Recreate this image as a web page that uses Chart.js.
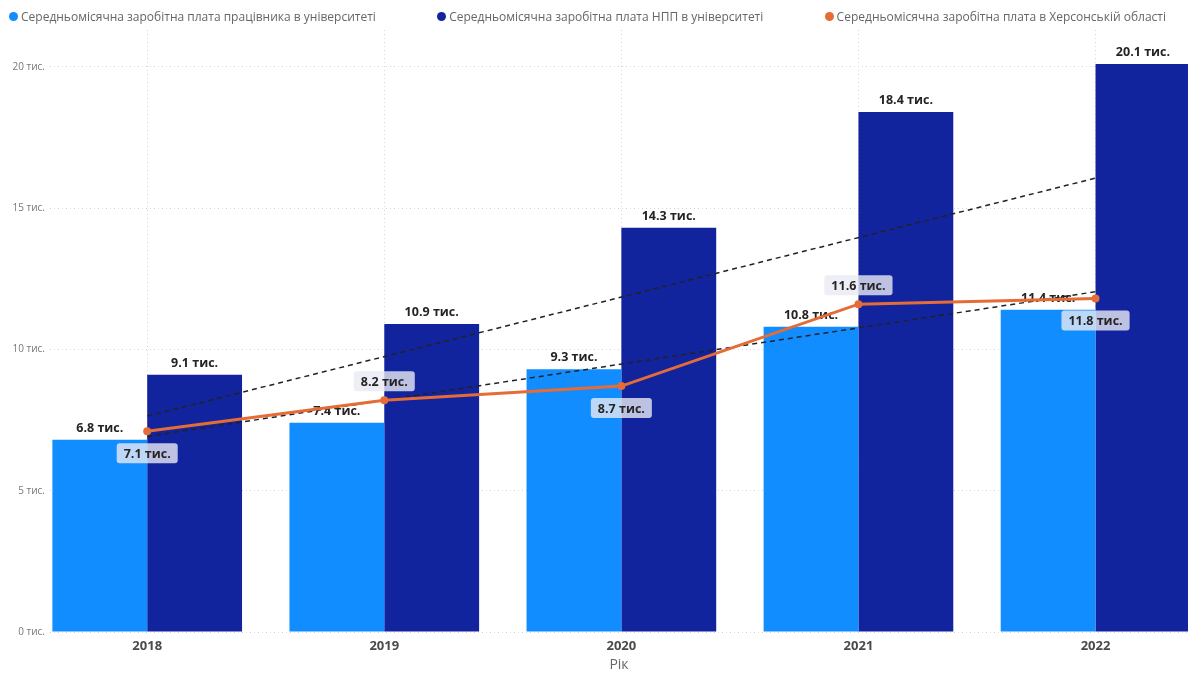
<!DOCTYPE html>
<html lang="uk">
<head>
<meta charset="utf-8">
<title>Середньомісячна заробітна плата</title>
<script src="https://cdn.jsdelivr.net/npm/chart.js@4.4.1/dist/chart.umd.min.js"></script>
<style>
  body { margin: 0; background: #fff; font-family: "Open Sans", sans-serif; }
  .wrap { position: relative; width: 1188px; height: 673px; overflow: hidden; }
  .legend { position: absolute; top: 8px; left: 9px; right: 22px; display: flex; justify-content: space-between; font-size: 12px; color: #666; }
  .legend-item { display: flex; align-items: center; gap: 3px; white-space: nowrap; }
  .legend-item .dot { width: 9px; height: 9px; border-radius: 50%; }
  canvas { display: block; }
</style>
</head>
<body>
<div class="wrap">
  <div class="legend"></div>
  <canvas id="salary" width="1188" height="673"></canvas>
</div>
<script>
const years = ["2018", "2019", "2020", "2021", "2022"];
const staffSalary = [6.8, 7.4, 9.3, 10.8, 11.4];
const teacherSalary = [9.1, 10.9, 14.3, 18.4, 20.1];
const regionSalary = [7.1, 8.2, 8.7, 11.6, 11.8];
const yTicks = [0, 5, 10, 15, 20];

const seriesNames = [
  "Середньомісячна заробітна плата працівника в університеті",
  "Середньомісячна заробітна плата НПП в університеті",
  "Середньомісячна заробітна плата в Херсонській області",
];
const seriesColors = ["#118DFF", "#12239E", "#E66C37"];

const fmt = (v) => v.toFixed(1) + " тис.";
const toPoints = (arr) => arr.map((v, i) => ({ x: i, y: v }));

// least squares trend across one or more series
function fitLine(...sets) {
  const pts = [];
  sets.forEach((arr) => arr.forEach((v, i) => pts.push({ x: i, y: v })));
  const n = pts.length;
  const mx = pts.reduce((s, p) => s + p.x, 0) / n;
  const my = pts.reduce((s, p) => s + p.y, 0) / n;
  let num = 0, den = 0;
  pts.forEach((p) => {
    num += (p.x - mx) * (p.y - my);
    den += (p.x - mx) * (p.x - mx);
  });
  const k = num / den;
  return [0, years.length - 1].map((x) => ({ x: x, y: my + k * (x - mx) }));
}

// html legend
const legendBox = document.querySelector(".legend");
seriesNames.forEach((name, i) => {
  legendBox.innerHTML += `
    <div class="legend-item">
      <span class="dot" style="background-color: ${seriesColors[i]}"></span>
      <span>${name}</span>
    </div>`;
});

const valueLabels = {
  id: "valueLabels",
  afterDatasetDraw(chart, args) {
    const ds = chart.data.datasets[args.index];
    if (ds.type !== "bar") return;
    const ctx = chart.ctx;
    ctx.save();
    ctx.font = "bold 12.5px 'Open Sans'";
    ctx.fillStyle = "#252423";
    ctx.textAlign = "center";
    ctx.textBaseline = "bottom";
    args.meta.data.forEach((bar, i) => {
      ctx.fillText(fmt(ds.data[i].y), bar.x, bar.y - 5);
    });
    ctx.restore();
  },
  afterDatasetsDraw(chart) {
    const ctx = chart.ctx;
    const meta = chart.getDatasetMeta(2);
    ctx.save();
    ctx.font = "bold 12.5px 'Open Sans'";
    ctx.textAlign = "center";
    ctx.textBaseline = "middle";
    meta.data.forEach((pt, i) => {
      const text = fmt(regionSalary[i]);
      const w = ctx.measureText(text).width + 14;
      const h = 20;
      const cy = i % 2 === 1 ? pt.y - 19 : pt.y + 22;
      ctx.fillStyle = "rgba(232, 234, 244, 0.8)";
      ctx.beginPath();
      ctx.roundRect(pt.x - w / 2, cy - h / 2, w, h, 3);
      ctx.fill();
      ctx.fillStyle = "#252423";
      ctx.fillText(text, pt.x, cy + 1);
    });
    ctx.restore();
  },
};

new Chart(document.getElementById("salary"), {
  type: "bar",
  data: {
    datasets: [
      {
        type: "bar",
        label: seriesNames[0],
        data: toPoints(staffSalary),
        backgroundColor: seriesColors[0],
        categoryPercentage: 0.8,
        barPercentage: 1,
        order: 3,
      },
      {
        type: "bar",
        label: seriesNames[1],
        data: toPoints(teacherSalary),
        backgroundColor: seriesColors[1],
        categoryPercentage: 0.8,
        barPercentage: 1,
        order: 3,
      },
      {
        type: "line",
        label: seriesNames[2],
        data: toPoints(regionSalary),
        borderColor: seriesColors[2],
        backgroundColor: seriesColors[2],
        borderWidth: 3,
        pointRadius: 4,
        pointBorderWidth: 0,
        order: 1,
      },
      {
        type: "line",
        label: "trend bars",
        data: fitLine(staffSalary, teacherSalary),
        borderColor: "#222",
        borderWidth: 1.5,
        borderDash: [5, 4],
        pointRadius: 0,
        order: 2,
      },
      {
        type: "line",
        label: "trend region",
        data: fitLine(regionSalary),
        borderColor: "#222",
        borderWidth: 1.5,
        borderDash: [5, 4],
        pointRadius: 0,
        order: 2,
      },
    ],
  },
  options: {
    responsive: false,
    animation: false,
    layout: { autoPadding: false, padding: { top: 30, left: 0, right: 0, bottom: 0 } },
    plugins: {
      legend: { display: false },
      tooltip: { enabled: false },
    },
    scales: {
      x: {
        type: "linear",
        offset: false,
        min: -0.41,
        max: 4.39,
        afterBuildTicks: (scale) => {
          scale.ticks = years.map((y, i) => ({ value: i }));
        },
        afterFit: (scale) => {
          scale.height = 41;
        },
        ticks: {
          padding: 6,
          color: "#4a4a4a",
          font: { family: "Open Sans", size: 13, weight: "bold" },
          callback: (v) => years[v],
        },
        grid: { color: "#d6d6d6", drawTicks: false, offset: false },
        border: { display: false, dash: [1, 3] },
        title: {
          display: true,
          text: "Рік",
          color: "#666",
          font: { family: "Open Sans", size: 14 },
          padding: { top: 0, bottom: 0 },
        },
      },
      y: {
        min: 0,
        max: 21.3,
        afterBuildTicks: (scale) => {
          scale.ticks = yTicks.map((v) => ({ value: v }));
        },
        afterFit: (scale) => {
          scale.width = 50;
        },
        ticks: {
          padding: 5,
          color: "#777",
          font: { family: "Open Sans", size: 10 },
          callback: (v) => v + " тис.",
        },
        grid: { color: "#d6d6d6", drawTicks: false },
        border: { display: false, dash: [1, 3] },
      },
    },
  },
  plugins: [valueLabels],
});
</script>
</body>
</html>
